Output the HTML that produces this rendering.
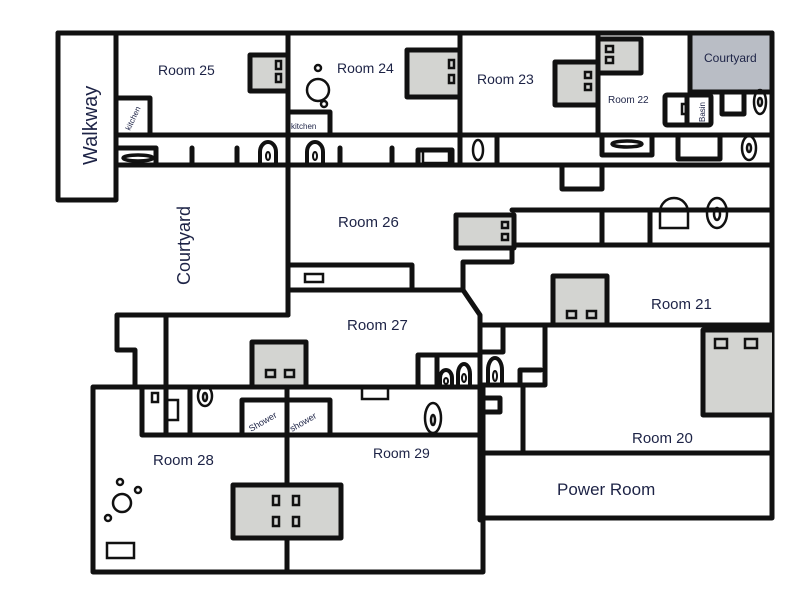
<!DOCTYPE html>
<html><head><meta charset="utf-8"><style>
html,body{margin:0;padding:0;background:#fff;}
svg{display:block;}
text{font-family:"Liberation Sans",sans-serif;fill:#1d2346;}
</style></head><body>
<svg width="800" height="600" viewBox="0 0 800 600" xmlns="http://www.w3.org/2000/svg">
<g fill="none" stroke="#111" stroke-width="5" stroke-linejoin="round" stroke-linecap="round">
<!-- top outer -->
<polyline points="58,33 772,33 772,518 482,518"/>
<!-- walkway -->
<polyline points="58,33 58,200 116,200 116,33"/>
<line x1="116" y1="135" x2="598" y2="135"/>
<line x1="116" y1="165" x2="772" y2="165"/>
<line x1="116" y1="135" x2="116" y2="167"/>
<line x1="288" y1="33" x2="288" y2="315"/>
<line x1="460" y1="33" x2="460" y2="165"/>
<line x1="598" y1="33" x2="598" y2="135"/>
<line x1="598" y1="135" x2="772" y2="135"/>
<!-- kitchens -->
<polyline points="116,98 150,98 150,135"/>
<polyline points="288,112 330,112 330,135"/>
<!-- room 23 corridor box -->
<polyline points="460,135 497,135 497,165"/>
<!-- grey boxes -->
<rect x="250" y="55" width="38" height="36" fill="#d3d4d1"/>
<rect x="407" y="50" width="53" height="47" fill="#d3d4d1"/>
<rect x="555" y="62" width="43" height="43" fill="#d3d4d1"/>
<rect x="598" y="39" width="43" height="34" fill="#d3d4d1"/>
<rect x="690" y="33" width="82" height="59" fill="#b9bdc5"/>
<!-- room 22 fixtures -->
<rect x="665" y="95" width="46" height="30" rx="2"/>
<line x1="687" y1="95" x2="687" y2="125"/>
<polyline points="722,92 722,114 744,114 744,92"/>
<!-- corridor fixtures -->
<polyline points="116,148 156,148 156,165"/>
<line x1="192" y1="148" x2="192" y2="165"/>
<line x1="237" y1="148" x2="237" y2="165"/>
<line x1="340" y1="148" x2="340" y2="165"/>
<line x1="392" y1="148" x2="392" y2="165"/>
<polyline points="418,165 418,150 452,150 452,165"/>
<polyline points="602,135 602,155 652,155 652,135"/>
<polyline points="678,135 678,159 720,159 720,135"/>
<polyline points="562,165 562,189 602,189 602,165"/>
<!-- room 26/21 strip -->
<polyline points="512,210 772,210"/>
<polyline points="512,245 772,245"/>
<line x1="602" y1="210" x2="602" y2="245"/>
<line x1="650" y1="210" x2="650" y2="245"/>
<rect x="456" y="215" width="58" height="33" fill="#d3d4d1"/>
<polyline points="512,248 512,262 463,262 463,290"/>
<!-- room 26 bottom -->
<polyline points="288,265 412,265 412,290"/>
<polyline points="288,290 463,290 480,315 480,520"/>
<!-- room 27 -->
<polyline points="288,315 117,315 117,350 135,350 135,387"/>
<line x1="166" y1="315" x2="166" y2="435"/>
<rect x="252" y="342" width="54" height="45" fill="#d3d4d1"/>
<polyline points="418,387 418,355 480,355"/>
<line x1="437" y1="355" x2="437" y2="387"/>
<!-- room 28/29 -->
<rect x="93" y="387" width="390" height="185"/>
<polyline points="142,387 142,435 480,435"/>
<line x1="190" y1="387" x2="190" y2="435"/>
<line x1="287" y1="387" x2="287" y2="572"/>
<polyline points="242,435 242,400 330,400 330,435"/>
<rect x="233" y="485" width="108" height="53" fill="#d3d4d1"/>
<!-- room 21/20 -->
<rect x="553" y="276" width="54" height="49" fill="#d3d4d1"/>
<line x1="480" y1="325" x2="772" y2="325"/>
<polyline points="482,352 503,352 503,325"/>
<polyline points="545,325 545,385 482,385"/>
<polyline points="520,385 520,370 541,370"/>
<line x1="523" y1="385" x2="523" y2="453"/>
<polyline points="482,398 500,398 500,412 482,412"/>
<polyline points="772,330 703,330 703,415 772,415" fill="#d3d4d1"/>
<line x1="482" y1="453" x2="772" y2="453"/>
</g>
<!-- fine details -->
<g fill="none" stroke="#111" stroke-width="2.5">
<rect x="276" y="61" width="5" height="8"/><rect x="276" y="74" width="5" height="8"/>
<rect x="449" y="60" width="5" height="8"/><rect x="449" y="75" width="5" height="8"/>
<rect x="585" y="72" width="6" height="6"/><rect x="585" y="84" width="6" height="6"/>
<rect x="606" y="46" width="7" height="6"/><rect x="606" y="57" width="7" height="6"/>
<rect x="502" y="222" width="6" height="6"/><rect x="502" y="234" width="6" height="6"/>
<rect x="266" y="370" width="9" height="7"/><rect x="285" y="370" width="9" height="7"/>
<rect x="567" y="311" width="9" height="7"/><rect x="587" y="311" width="9" height="7"/>
<rect x="715" y="339" width="12" height="9"/><rect x="745" y="339" width="12" height="9"/>
<rect x="273" y="496" width="6" height="9"/><rect x="293" y="496" width="6" height="9"/>
<rect x="273" y="517" width="6" height="9"/><rect x="293" y="517" width="6" height="9"/>
<circle cx="318" cy="68" r="3"/><circle cx="318" cy="90" r="11"/><circle cx="324" cy="104" r="3"/>
<circle cx="122" cy="503" r="9"/><circle cx="120" cy="482" r="3"/><circle cx="138" cy="490" r="3"/><circle cx="108" cy="518" r="3"/>
<rect x="107" y="543" width="27" height="15"/>
<rect x="305" y="274" width="18" height="8"/>
<rect x="423" y="150" width="26" height="13"/>
<rect x="152" y="393" width="6" height="9"/>
<polyline points="168,400 178,400 178,420 168,420"/>
<rect x="362" y="387" width="26" height="12"/>
<rect x="682" y="104" width="6" height="10"/>
<ellipse cx="138" cy="158" rx="15" ry="3" stroke-width="3.5"/>
<ellipse cx="627" cy="144" rx="15" ry="3" stroke-width="3.5"/>
<ellipse cx="478" cy="150" rx="5" ry="10"/>
<ellipse cx="433" cy="418" rx="8" ry="15"/><ellipse cx="433" cy="420" rx="2" ry="5"/>
<ellipse cx="205" cy="396" rx="7" ry="10"/><ellipse cx="205" cy="397" rx="2" ry="4"/>
<ellipse cx="717" cy="213" rx="10" ry="15"/><ellipse cx="717" cy="214" rx="3" ry="6"/>
<ellipse cx="760" cy="102" rx="6" ry="12"/><ellipse cx="760" cy="102" rx="2" ry="4"/>
<ellipse cx="749" cy="148" rx="7" ry="12"/><ellipse cx="749" cy="148" rx="2" ry="4"/>
<path d="M660,228 L660,212 A14,14 0 0 1 688,212 L688,228 Z"/>
</g>
<g fill="none" stroke="#111" stroke-width="4">
<path d="M260,165 L260,152 A8,10 0 0 1 276,152 L276,165"/>
<path d="M307,165 L307,152 A8,10 0 0 1 323,152 L323,165"/>
<path d="M440,385 L440,378 A6,8 0 0 1 452,378 L452,385"/>
<path d="M458,385 L458,374 A6,10 0 0 1 470,374 L470,385"/>
<path d="M488,385 L488,370 A7,12 0 0 1 502,370 L502,385"/>
</g>
<g fill="none" stroke="#111" stroke-width="2">
<ellipse cx="268" cy="156" rx="2" ry="4"/><ellipse cx="315" cy="156" rx="2" ry="4"/>
<ellipse cx="446" cy="381" rx="2" ry="3"/><ellipse cx="464" cy="378" rx="2" ry="4"/><ellipse cx="495" cy="376" rx="2" ry="5"/>
</g>
<!-- labels -->
<text x="158" y="75" font-size="14">Room  25</text>
<text x="337" y="73" font-size="14">Room 24</text>
<text x="477" y="84" font-size="14">Room 23</text>
<text x="608" y="103" font-size="10">Room 22</text>
<text x="704" y="62" font-size="12">Courtyard</text>
<text x="338" y="227" font-size="15">Room  26</text>
<text x="347" y="330" font-size="15">Room  27</text>
<text x="651" y="309" font-size="15">Room 21</text>
<text x="632" y="443" font-size="15">Room 20</text>
<text x="557" y="495" font-size="17">Power Room</text>
<text x="153" y="465" font-size="15">Room  28</text>
<text x="373" y="458" font-size="14">Room  29</text>
<text x="291" y="129" font-size="8">kitchen</text>
<text transform="translate(130,131) rotate(-65)" font-size="8">kitchen</text>
<text transform="translate(251,432) rotate(-30)" font-size="9">Shower</text>
<text transform="translate(292,432) rotate(-30)" font-size="9">shower</text>
<text transform="translate(705,122) rotate(-90)" font-size="8">Basin</text>
<text transform="translate(97,165) rotate(-90)" font-size="20">Walkway</text>
<text transform="translate(190,285) rotate(-90)" font-size="18">Courtyard</text>
</svg>
</body></html>
